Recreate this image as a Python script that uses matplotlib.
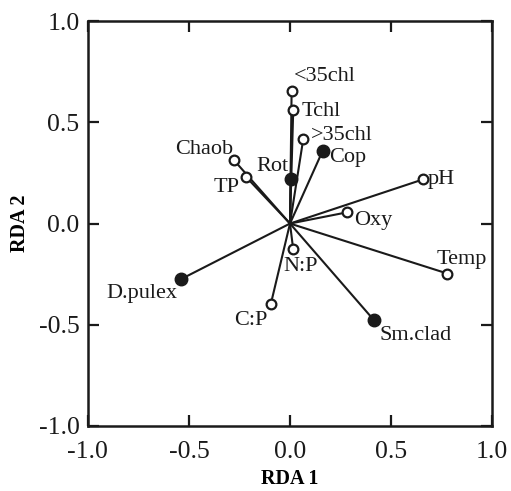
import matplotlib
matplotlib.use('Agg')
import matplotlib.pyplot as plt

plt.rcParams['font.family'] = ['Liberation Serif', 'DejaVu Serif']

# RDA biplot scores
env_names = ['<35chl', 'Tchl', '>35chl', 'Chaob', 'TP', 'pH', 'Oxy', 'Temp', 'N:P', 'C:P']
env_x = [0.008, 0.016, 0.066, -0.278, -0.218, 0.658, 0.280, 0.779, 0.016, -0.095]
env_y = [0.655, 0.559, 0.420, 0.314, 0.231, 0.218, 0.055, -0.247, -0.128, -0.398]

sp_names = ['Cop', 'Rot', 'Sm.clad', 'D.pulex']
sp_x = [0.162, 0.003, 0.416, -0.540]
sp_y = [0.360, 0.222, -0.478, -0.275]

# label offsets in pixels (dx, dy, ha)
env_off = {'<35chl': (2, 14, 'left'), 'Tchl': (8, -1, 'left'), '>35chl': (8, 3, 'left'),
           'Chaob': (-1, 10, 'right'), 'TP': (-6, -11, 'right'), 'pH': (5, 0, 'left'),
           'Oxy': (8, -8, 'left'), 'Temp': (14, 14, 'center'), 'N:P': (7, -17, 'center'),
           'C:P': (-3, -16, 'right')}
sp_off = {'Cop': (6, -7, 'left'), 'Rot': (-2, 12, 'right'), 'Sm.clad': (5, -15, 'left'),
          'D.pulex': (-3, -14, 'right')}

fig = plt.figure(figsize=(5.11, 4.91), dpi=100)
ax = fig.add_axes([0.172, 0.1324, 0.791, 0.8246])

for x, y in zip(env_x, env_y):
    ax.plot([0, x], [0, y], color='#1a1a1a', lw=1.5, zorder=2)
for x, y in zip(sp_x, sp_y):
    ax.plot([0, x], [0, y], color='#1a1a1a', lw=1.5, zorder=2)

ax.plot(env_x, env_y, 'o', ms=7, mfc='white', mec='#1a1a1a', mew=1.6, ls='none', zorder=3)
ax.plot(sp_x, sp_y, 'o', ms=9, mfc='#1a1a1a', mec='#1a1a1a', ls='none', zorder=3)

for n, x, y in zip(env_names, env_x, env_y):
    dx, dy, ha = env_off[n]
    ax.annotate(n, (x, y), xytext=(dx, dy), textcoords='offset pixels',
                ha=ha, va='center', fontsize=16, color='#1a1a1a')
for n, x, y in zip(sp_names, sp_x, sp_y):
    dx, dy, ha = sp_off[n]
    ax.annotate(n, (x, y), xytext=(dx, dy), textcoords='offset pixels',
                ha=ha, va='center', fontsize=16, color='#1a1a1a')

ax.set_xlim(-1, 1)
ax.set_ylim(-1, 1)
ticks = [-1.0, -0.5, 0.0, 0.5, 1.0]
ax.set_xticks(ticks)
ax.set_yticks(ticks)
ax.set_xticklabels([f'{t:.1f}' for t in ticks])
ax.set_yticklabels([f'{t:.1f}' for t in ticks])
ax.tick_params(direction='in', length=8, width=1.6, labelsize=18.5, top=True, right=True,
               colors='#1a1a1a')
ax.tick_params(axis='x', pad=11)
ax.tick_params(axis='y', pad=6)
for s in ax.spines.values():
    s.set_linewidth(1.8)
    s.set_color('#1a1a1a')

ax.set_xlabel('RDA 1', fontsize=14.5, fontweight='bold', labelpad=4)
ax.set_ylabel('RDA 2', fontsize=14.5, fontweight='bold', labelpad=6)

plt.savefig('out.png', dpi=100)
